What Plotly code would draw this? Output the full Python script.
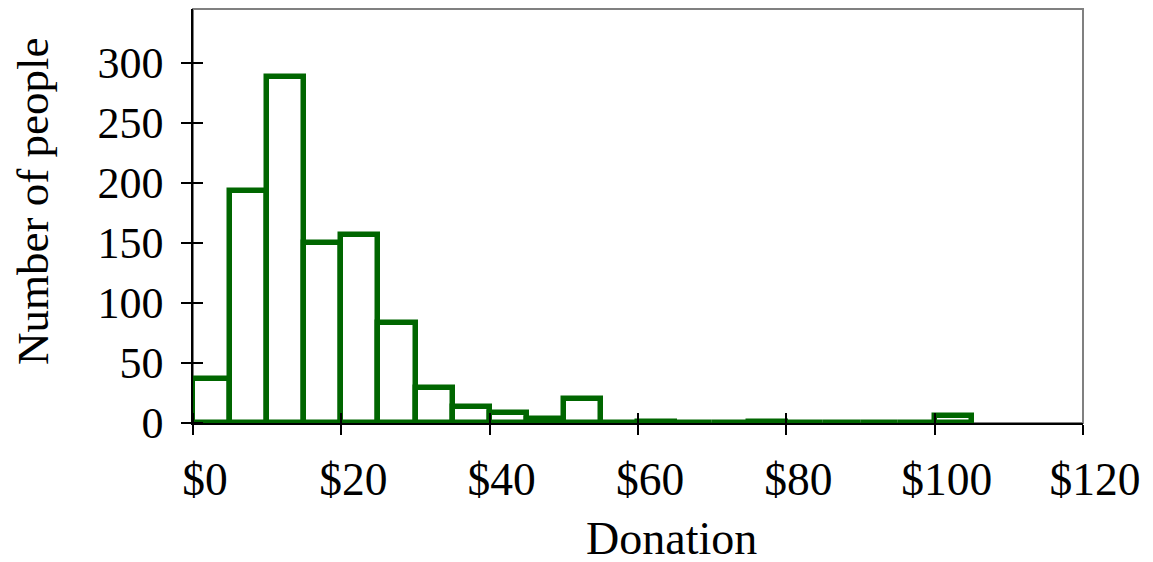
import plotly.graph_objects as go

bin_starts = [0, 5, 10, 15, 20, 25, 30, 35, 40, 45, 50, 55, 60, 65, 70, 75, 80, 85, 90, 95, 100]
counts = [37, 193, 288, 150, 157, 83, 29, 13, 8, 3, 20, 0, 1, 0, 0, 1, 0, 0, 0, 0, 6]
bin_width = 5
x_ticks = [0, 20, 40, 60, 80, 100, 120]
x_tick_labels = ["$0", "$20", "$40", "$60", "$80", "$100", "$120"]
y_ticks = [0, 50, 100, 150, 200, 250, 300]

green = "#006600"
font_family = "Liberation Serif"

fig = go.Figure()
fig.add_trace(go.Bar(
    x=[s + bin_width / 2 for s in bin_starts],
    y=counts,
    width=bin_width,
    marker=dict(color="white", line=dict(color=green, width=5.5)),
    showlegend=False,
))

# inner half of the crossing tick marks (small offset so plotly keeps them)
eps = 0.02
x_step = x_ticks[1] - x_ticks[0]
y_step = y_ticks[1] - y_ticks[0]

# page body has an 8px default margin, so layout is offset accordingly
fig.update_layout(
    width=1153, height=562,
    margin=dict(l=185, r=78, t=1, b=147),
    paper_bgcolor="white", plot_bgcolor="white",
    font=dict(family=font_family, size=44, color="black"),
    bargap=0,
    shapes=[dict(type="rect", xref="paper", yref="paper", x0=0, y0=0, x1=1, y1=1,
                 line=dict(color="#808080", width=2), layer="below")],
    annotations=[
        dict(text="Donation", xref="paper", yref="paper", x=0.538, y=-0.28,
             xanchor="center", yanchor="middle", showarrow=False,
             font=dict(size=46)),
        dict(text="Number of people", xref="paper", yref="paper", x=-0.18, y=0.536,
             xanchor="center", yanchor="middle", showarrow=False, textangle=-90,
             font=dict(size=45)),
    ],
)
fig.update_xaxes(
    range=[0, 120], tickvals=x_ticks, ticktext=x_tick_labels,
    showgrid=False, zeroline=False, showline=True, linecolor="black", linewidth=1.5,
    ticks="outside", ticklen=10, tickcolor="black", tickwidth=1.5,
    ticklabelstandoff=6, ticklabelshift=12, automargin=False,
    tickfont=dict(size=45.5),
    minor=dict(tickmode="linear", tick0=x_ticks[0] + eps, dtick=x_step, ticks="inside",
               ticklen=10, tickcolor="black", tickwidth=1.5, showgrid=False),
)
fig.update_yaxes(
    range=[0, 345], tickvals=y_ticks,
    showgrid=False, zeroline=False, showline=True, linecolor="black", linewidth=1.5,
    ticks="outside", ticklen=10, tickcolor="black", tickwidth=1.5,
    ticklabelstandoff=9, automargin=False,
    minor=dict(tickmode="linear", tick0=y_ticks[0] + eps, dtick=y_step, ticks="inside",
               ticklen=10, tickcolor="black", tickwidth=1.5, showgrid=False),
)

fig.write_html("out.html")
